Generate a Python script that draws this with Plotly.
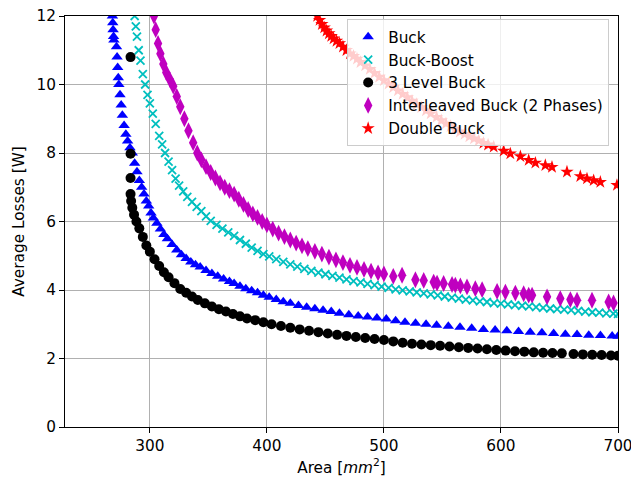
import plotly.graph_objects as go

# ---------------- data ----------------
buck_x = [268.0, 268.3, 268.6, 269.0, 269.3, 271.5, 272.0, 272.5, 273.0, 273.5,
          274.5, 275.5, 276.5, 278.0, 279.5, 281.0, 283.0, 285.0, 287.0, 289.0,
          291.0, 293.0, 295.0, 297.0, 299.0, 301.0, 303.0, 306.0, 309.0, 312.0,
          315.0, 319.0, 323.0, 327.0, 331.0, 335.0, 339.0, 343.0, 348.0, 353.0,
          358.0, 363.0, 368.0, 372.0, 377.0, 382.0, 387.0, 392.0, 397.0, 402.0,
          408.0, 414.0, 420.0, 427.0, 434.0, 441.0, 448.0, 455.0, 462.0, 470.0,
          478.0, 486.0, 494.0, 502.0, 510.0, 518.0, 527.0, 536.0, 545.0, 555.0,
          565.0, 575.0, 585.0, 595.0, 605.0, 615.0, 625.0, 635.0, 645.0, 655.0,
          665.0, 675.0, 685.0, 695.0, 700.0]
buck_y = [12.0, 11.8, 11.6, 11.4, 11.3, 11.1, 10.8, 10.5, 10.2, 10.0,
          9.7, 9.4, 9.1, 8.8, 8.55, 8.35, 8.15, 8.0, 7.7, 7.45,
          7.2, 7.0, 6.8, 6.6, 6.45, 6.25, 6.1, 5.95, 5.78, 5.62,
          5.5, 5.33, 5.17, 5.03, 4.92, 4.82, 4.74, 4.67, 4.57, 4.48,
          4.40, 4.32, 4.25, 4.19, 4.11, 4.04, 3.98, 3.92, 3.85, 3.79,
          3.72, 3.66, 3.61, 3.55, 3.50, 3.45, 3.41, 3.37, 3.32, 3.28,
          3.24, 3.21, 3.18, 3.15, 3.10, 3.06, 3.03, 3.00, 2.97, 2.94,
          2.91, 2.88, 2.85, 2.83, 2.81, 2.79, 2.77, 2.75, 2.73, 2.71,
          2.70, 2.68, 2.67, 2.66, 2.65]

bb_x = [287.0, 288.0, 289.0, 290.5, 292.0, 294.0, 296.0, 298.0, 300.0, 302.5,
        305.0, 308.0, 310.5, 313.0, 316.0, 319.0, 322.0, 325.0, 328.5, 332.0,
        336.0, 340.0, 344.0, 348.0, 352.0, 357.0, 362.0, 367.0, 372.0, 377.0,
        382.0, 387.0, 392.0, 397.0, 402.0, 408.0, 414.0, 420.0, 426.0, 432.0,
        438.0, 444.0, 450.0, 456.0, 462.0, 468.0, 474.0, 480.0, 486.0, 492.0,
        498.0, 504.0, 510.0, 516.0, 522.0, 528.0, 534.0, 540.0, 546.0, 552.0,
        558.0, 564.0, 570.0, 576.0, 582.0, 588.0, 594.0, 600.0, 606.0, 612.0,
        618.0, 624.0, 630.0, 636.0, 642.0, 648.0, 654.0, 660.0, 666.0, 672.0,
        678.0, 684.0, 690.0, 696.0, 700.0]
bb_y = [12.0, 11.7, 11.4, 11.0, 10.7, 10.3, 10.0, 9.7, 9.45, 9.15,
        8.85, 8.5, 8.25, 8.0, 7.75, 7.5, 7.25, 7.05, 6.88, 6.72,
        6.57, 6.43, 6.30, 6.15, 6.02, 5.9, 5.79, 5.68, 5.58, 5.46,
        5.35, 5.24, 5.14, 5.05, 4.98, 4.90, 4.82, 4.75, 4.68, 4.62,
        4.56, 4.51, 4.46, 4.41, 4.36, 4.31, 4.26, 4.22, 4.18, 4.14,
        4.10, 4.06, 4.02, 3.99, 3.96, 3.93, 3.90, 3.87, 3.84, 3.81,
        3.78, 3.75, 3.72, 3.70, 3.67, 3.65, 3.62, 3.60, 3.58, 3.56,
        3.54, 3.52, 3.50, 3.48, 3.46, 3.44, 3.43, 3.41, 3.39, 3.37,
        3.35, 3.34, 3.32, 3.31, 3.30]

lvl3_x = [283.5, 283.5, 283.5, 283.5, 284.0, 285.0, 286.5, 288.5, 291.0, 294.0,
          297.0, 300.0, 304.0, 308.0, 312.0, 316.0, 321.0, 326.0, 331.0, 336.0,
          341.0, 347.0, 353.0, 359.0, 365.0, 371.0, 377.0, 383.0, 390.0, 397.0,
          404.0, 412.0, 420.0, 428.0, 436.0, 444.0, 452.0, 460.0, 468.0, 476.0,
          484.0, 492.0, 500.0, 508.0, 516.0, 524.0, 532.0, 540.0, 548.0, 556.0,
          564.0, 572.0, 580.0, 588.0, 596.0, 604.0, 612.0, 620.0, 628.0, 636.0,
          644.0, 652.0, 662.0, 670.0, 678.0, 686.0, 694.0, 700.0]
lvl3_y = [10.8, 7.98, 7.27, 6.8, 6.6, 6.4, 6.2, 6.0, 5.8, 5.55,
          5.3, 5.12, 4.9, 4.7, 4.52, 4.37, 4.2, 4.03, 3.92, 3.81,
          3.71, 3.61, 3.52, 3.44, 3.37, 3.30, 3.23, 3.17, 3.12, 3.06,
          3.00, 2.95, 2.90, 2.85, 2.81, 2.77, 2.73, 2.69, 2.66, 2.63,
          2.60, 2.57, 2.54, 2.50, 2.46, 2.43, 2.41, 2.39, 2.37, 2.35,
          2.33, 2.31, 2.29, 2.27, 2.25, 2.23, 2.21, 2.20, 2.18, 2.17,
          2.16, 2.15, 2.13, 2.12, 2.11, 2.10, 2.09, 2.08]

il_x = [303.5, 305.0, 307.0, 309.0, 311.5, 314.0, 317.0, 320.0, 323.0, 326.0,
        329.5, 333.0, 337.0, 340.5, 344.0, 348.0, 352.0, 356.0, 360.0, 364.0,
        368.0, 372.0, 376.0, 380.0, 384.0, 388.0, 392.0, 396.0, 400.0, 405.0,
        410.0, 415.0, 420.0, 425.0, 430.0, 435.0, 441.0, 447.0, 453.0, 459.0,
        465.0, 471.0, 477.0, 483.0, 489.0, 495.0, 500.0, 508.0, 515.5, 526.9,
        534.0, 542.5, 545.4, 551.0, 558.2, 561.0, 565.3, 571.0, 578.1, 583.9,
        596.7, 603.8, 612.3, 619.4, 623.7, 626.6, 639.4, 650.7, 659.3, 665.0,
        677.8, 692.0, 696.2]
il_y = [12.0, 11.6, 11.2, 10.9, 10.6, 10.35, 10.15, 9.95, 9.65, 9.35,
        9.0, 8.65, 8.3, 8.0, 7.8, 7.6, 7.43, 7.27, 7.13, 7.0,
        6.9, 6.8, 6.65, 6.5, 6.35, 6.22, 6.12, 6.0, 5.9, 5.78,
        5.66, 5.56, 5.46, 5.37, 5.29, 5.21, 5.13, 5.05, 4.96, 4.88,
        4.80, 4.72, 4.66, 4.60, 4.55, 4.50, 4.47, 4.40, 4.43, 4.30,
        4.28, 4.23, 4.20, 4.19, 4.16, 4.14, 4.12, 4.09, 4.04, 4.01,
        3.96, 3.94, 3.91, 3.89, 3.85, 3.85, 3.80, 3.75, 3.72, 3.70,
        3.70, 3.65, 3.62]

db_x = [443.0, 445.0, 447.0, 449.0, 451.0, 453.0, 455.0, 457.0, 459.5, 462.0,
        465.0, 468.0, 471.0, 474.0, 477.0, 480.0, 484.0, 488.0, 492.0, 496.0,
        500.0, 504.0, 508.0, 512.0, 516.0, 520.0, 524.0, 528.0, 532.0, 536.0,
        540.0, 545.0, 549.0, 553.0, 557.0, 561.0, 565.0, 569.0, 573.0, 577.0,
        581.0, 585.0, 589.0, 593.8, 602.3, 608.0, 616.6, 623.7, 629.4, 637.9,
        643.6, 656.4, 667.8, 673.5, 679.2, 684.9, 699.1]
db_y = [12.0, 11.88, 11.76, 11.66, 11.57, 11.49, 11.41, 11.34, 11.27, 11.2,
        11.1, 11.0, 10.9, 10.83, 10.75, 10.65, 10.55, 10.45, 10.33, 10.22,
        10.12, 10.02, 9.92, 9.82, 9.72, 9.62, 9.52, 9.42, 9.33, 9.24,
        9.15, 9.05, 8.95, 8.86, 8.78, 8.70, 8.62, 8.55, 8.48, 8.42,
        8.36, 8.29, 8.24, 8.18, 8.06, 7.98, 7.90, 7.79, 7.71, 7.64,
        7.59, 7.45, 7.32, 7.25, 7.20, 7.15, 7.06]

x_ticks = [300, 400, 500, 600, 700]
y_ticks = [0, 2, 4, 6, 8, 10, 12]

FONT = "DejaVu Sans"
FS = 15.3

series = [
    ("Buck", buck_x, buck_y, "triangle-up", "#0000ff", 10, 0),
    ("Buck-Boost", bb_x, bb_y, "x-thin", "#00bfbf", 8, 1.8),
    ("3 Level Buck", lvl3_x, lvl3_y, "circle", "#000000", 10, 0),
    ("Interleaved Buck (2 Phases)", il_x, il_y, "diamond-tall", "#bf00bf", 12, 0),
    ("Double Buck", db_x, db_y, "star", "#ff0000", 10, 0),
]

fig = go.Figure()
for name, xs, ys, sym, col, size, lw in series:
    fig.add_trace(go.Scatter(
        x=xs, y=ys, mode="markers", name=name,
        marker=dict(symbol=sym, color=col, size=size,
                    line=dict(color=col, width=lw)),
    ))

axis_common = dict(
    showline=True, linecolor="black", linewidth=1.1, mirror=True,
    showgrid=True, gridcolor="#b0b0b0", gridwidth=1,
    ticks="outside", ticklen=5, tickcolor="black", tickwidth=1,
    tickfont=dict(family=FONT, size=FS, color="black"),
    zeroline=False, layer="above traces", automargin=False,
    ticklabeloverflow="allow",
)

fig.update_layout(
    width=631, height=477,
    margin=dict(l=65, r=13, t=16, b=50),
    paper_bgcolor="white", plot_bgcolor="white",
    font=dict(family=FONT, size=FS, color="black"),
    xaxis=dict(range=[227.5, 700], tickvals=x_ticks,
               title=dict(text="Area [<i>mm</i><sup>2</sup>]", standoff=7,
                          font=dict(family=FONT, size=FS, color="black")),
               **axis_common),
    yaxis=dict(range=[0, 12], tickvals=y_ticks,
               title=dict(text="Average Losses [W]", standoff=8,
                          font=dict(family=FONT, size=FS, color="black")),
               **axis_common),
    legend=dict(x=0.984, xanchor="right", y=0.992, yanchor="top",
                bgcolor="rgba(255,255,255,0.8)", bordercolor="#cccccc",
                borderwidth=1, font=dict(family=FONT, size=FS, color="black"),
                itemsizing="trace"),
    showlegend=True,
)

fig.write_html("out.html", config={"displayModeBar": False},
               post_script="document.body.style.margin='0';document.body.style.overflow='hidden';")
